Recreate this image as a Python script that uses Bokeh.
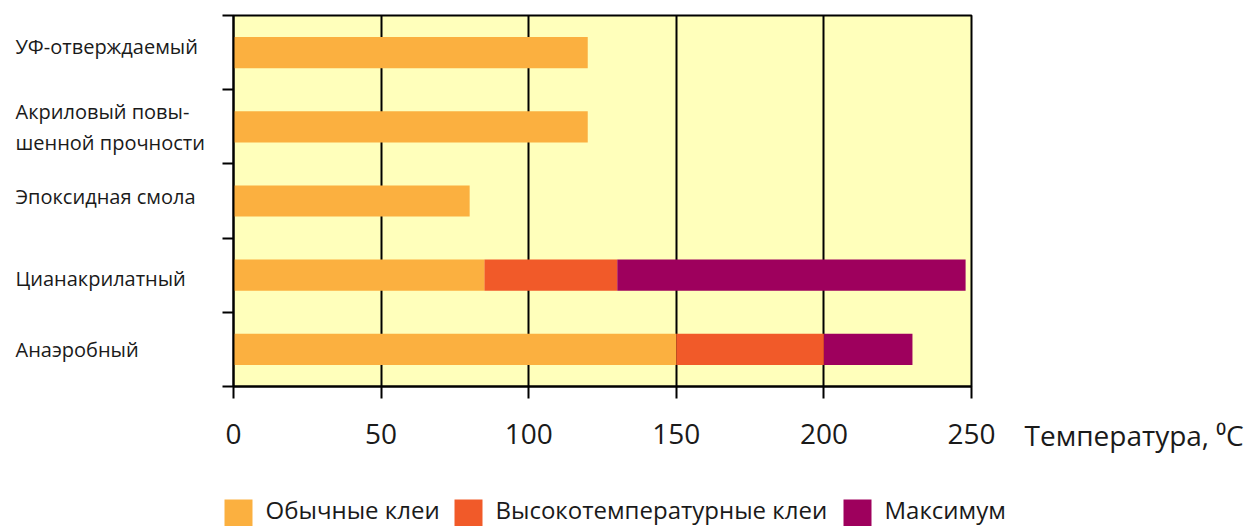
from bokeh.plotting import figure
from bokeh.models import Range1d, FixedTicker
from bokeh.core.properties import value
from bokeh.embed import file_html
from bokeh.resources import INLINE

# ---- data ----
categories = ["УФ-отверждаемый", "Акриловый повы-\nшенной прочности", "Эпоксидная смола",
              "Цианакрилатный", "Анаэробный"]
normal = [120, 120, 80, 85, 150]          # Обычные клеи (end temperature)
high_temp = [0, 0, 0, 130, 200]           # Высокотемпературные клеи (end temperature)
maximum = [0, 0, 0, 248, 230]             # Максимум (end temperature)
x_ticks = [0, 50, 100, 150, 200, 250]
series_names = ["Обычные клеи", "Высокотемпературные клеи", "Максимум"]
x_title = "Температура, \u2070C"

colors = ["#FBB040", "#F15A29", "#9E005D"]
FONT = "Open Sans"
TXT = "#1a1a1a"

W, H = 1251, 526
L, R, T, B = 233, 280, 15, 140
fw, fh = W - L - R, H - T - B
n = len(categories)
px_x = fw / 250.0
px_y = fh / float(n)


def dx(px):  # page pixel x -> data x
    return (px - L) / px_x


def dy(py):  # page pixel y -> data y
    return (H - B - py) / px_y


p = figure(width=W, height=H, x_range=Range1d(0, 250), y_range=Range1d(0, n),
           output_backend="svg", toolbar_location=None,
           min_border_left=L, min_border_right=R, min_border_top=T, min_border_bottom=B)
p.background_fill_color = "#FFFFBB"
p.border_fill_color = "white"
p.outline_line_color = "black"
p.outline_line_width = 2

ys = [n - i - 0.5 for i in range(n)]
bh = 0.42

p.hbar(y=ys, left=0, right=normal, height=bh, fill_color=colors[0], line_color=None)
idx = [i for i in range(n) if high_temp[i] > 0]
p.hbar(y=[ys[i] for i in idx], left=[normal[i] for i in idx], right=[high_temp[i] for i in idx],
       height=bh, fill_color=colors[1], line_color=None)
idx2 = [i for i in range(n) if maximum[i] > 0]
p.hbar(y=[ys[i] for i in idx2], left=[high_temp[i] for i in idx2], right=[maximum[i] for i in idx2],
       height=bh, fill_color=colors[2], line_color=None)

# grid
p.xgrid.ticker = FixedTicker(ticks=x_ticks)
p.xgrid.grid_line_color = "black"
p.xgrid.grid_line_width = 2
p.xgrid.grid_line_alpha = 1
p.ygrid.visible = False

# x axis
xa = p.xaxis[0]
xa.ticker = FixedTicker(ticks=x_ticks)
xa.axis_line_width = 2
xa.major_tick_line_width = 2
xa.major_tick_out = 12
xa.major_tick_in = 0
xa.minor_tick_line_color = None
xa.major_label_text_font = FONT
xa.major_label_text_font_size = "28px"
xa.major_label_text_color = TXT
xa.major_label_standoff = 25

# y axis (ticks at category boundaries, no labels)
ya = p.yaxis[0]
ya.ticker = FixedTicker(ticks=list(range(n + 1)))
ya.major_label_overrides = {i: "" for i in range(n + 1)}
ya.axis_line_width = 2
ya.major_tick_line_width = 2
ya.major_tick_out = 11
ya.major_tick_in = 0
ya.minor_tick_line_color = None

# category labels (overlay level so they are not clipped to the frame)
label_shift_px = [6, 0, 5, -3, 0]   # small vertical nudges as in the original layout
p.text(x=[dx(15)] * n, y=[ys[i] + label_shift_px[i] / px_y for i in range(n)], text=categories,
       text_font=value(FONT), text_font_size=value("20px"),
       text_color=TXT, text_align="left", text_baseline="middle", text_line_height=1.15,
       level="overlay")

# axis title
p.text(x=[dx(1024)], y=[dy(434)], text=[x_title], text_font=value(FONT),
       text_font_size=value("28px"), text_color=TXT, text_align="left", text_baseline="middle",
       level="overlay")

# legend (swatches + labels below the chart)
sq_left = [224, 454, 843]
sq = 28
sq_y = dy(513)
for i in range(3):
    p.line(x=[dx(sq_left[i]), dx(sq_left[i] + sq)], y=[sq_y, sq_y], line_width=sq,
           line_color=colors[i], line_cap="butt", level="overlay")
p.text(x=[dx(v + sq + 13) for v in sq_left], y=[dy(509)] * 3, text=series_names,
       text_font=value(FONT), text_font_size=value("24px"), text_color=TXT,
       text_align="left", text_baseline="middle", level="overlay")

open("out.html", "w").write(file_html(p, INLINE))
